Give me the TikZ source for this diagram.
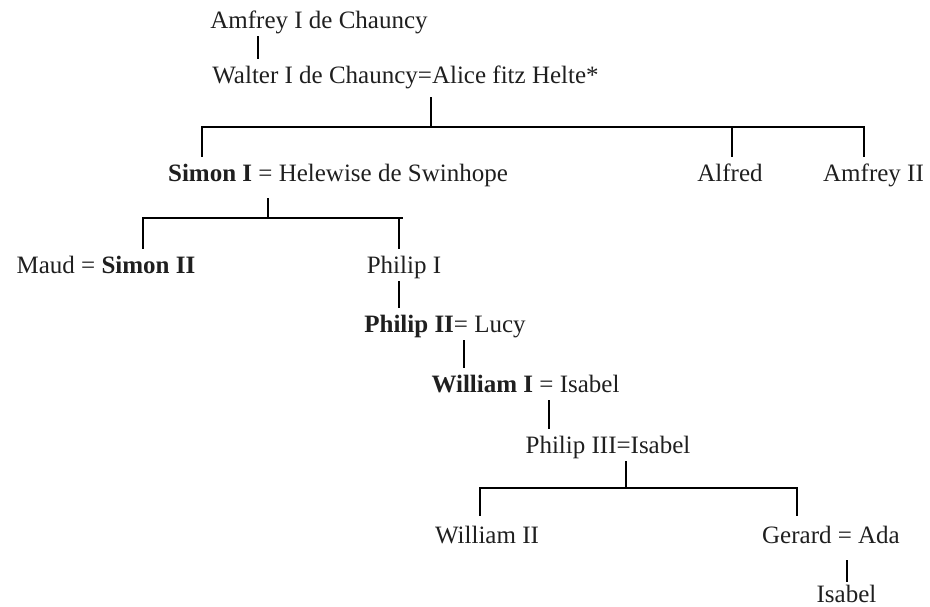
\documentclass[tikz,border=0pt]{standalone}
\usepackage{fontspec}
\setmainfont{Liberation Serif}
\begin{document}
\begin{tikzpicture}[x=1pt,y=-1pt,
  person/.style={anchor=base, inner sep=0pt, text height=24pt, text depth=8pt,
    font=\fontsize{25}{30}\selectfont, text=black!88},
  link/.style={line width=2.2pt, line join=miter, black}]
\useasboundingbox (0,0) rectangle (930,606);
% people
\node[person] (amfreyI)  at (319,28)  {Amfrey I de Chauncy};
\node[person] (walter)   at (405.5,83) {Walter I de Chauncy=Alice fitz Helte*};
\node[person] (simon)    at (338,181) {\textbf{Simon I} = Helewise de Swinhope};
\node[person] (alfred)   at (730,181) {Alfred};
\node[person] (amfreyII) at (873.5,181) {Amfrey II};
\node[person] (maud)     at (106,273) {Maud = \textbf{Simon II}};
\node[person] (philipI)  at (404,273) {Philip I};
\node[person] (philipII) at (445,332) {\textbf{Philip II}= Lucy};
\node[person] (williamI) at (525.5,392) {\textbf{William I} = Isabel};
\node[person] (philipIII) at (608,453) {Philip III=Isabel};
\node[person] (williamII) at (487,543) {William II};
\node[person] (gerard)   at (831,543) {Gerard = Ada};
\node[person] (isabel)   at (846.5,602) {Isabel};
% junctions
\coordinate (v1) at (258,0);
\coordinate (j1) at (431,127);
\coordinate (b1L) at (202,127);
\coordinate (b1A) at (732,127);
\coordinate (b1R) at (864,127);
\coordinate (j2) at (268,218);
\coordinate (b2L) at (143,218);
\coordinate (b2R) at (399,218);
\coordinate (b2E) at (403,218);
\coordinate (v4) at (399,0);
\coordinate (v5) at (464,0);
\coordinate (v6) at (549,0);
\coordinate (j3) at (626,488);
\coordinate (b3L) at (480,488);
\coordinate (b3R) at (797,488);
\coordinate (v8) at (847,0);
% connectors
\draw[link] (amfreyI.south -| v1) -- (walter.north -| v1);
\draw[link, shorten <=6pt] (walter.south -| j1) -- (j1);
\draw[link] (simon.north -| b1L) -- (b1L) -- (b1R) -- (amfreyII.north -| b1R);
\draw[link] (b1A) -- (alfred.north -| b1A);
\draw[link, shorten <=9pt] (simon.south -| j2) -- (j2);
\draw[link] (maud.north -| b2L) -- (b2L) -- (b2E);
\draw[link] (b2R) -- (philipI.north -| b2R);
\draw[link] (philipI.south -| v4) -- (philipII.north -| v4);
\draw[link] (philipII.south -| v5) -- (williamI.north -| v5);
\draw[link] (williamI.south -| v6) -- (philipIII.north -| v6);
\draw[link] (philipIII.south -| j3) -- (j3);
\draw[link, shorten <=3pt, shorten >=3pt] (williamII.north -| b3L) -- (b3L) -- (b3R) -- (gerard.north -| b3R);
\draw[link, shorten <=9pt, shorten >=-4pt] (gerard.south -| v8) -- (isabel.north -| v8);
\end{tikzpicture}
\end{document}
